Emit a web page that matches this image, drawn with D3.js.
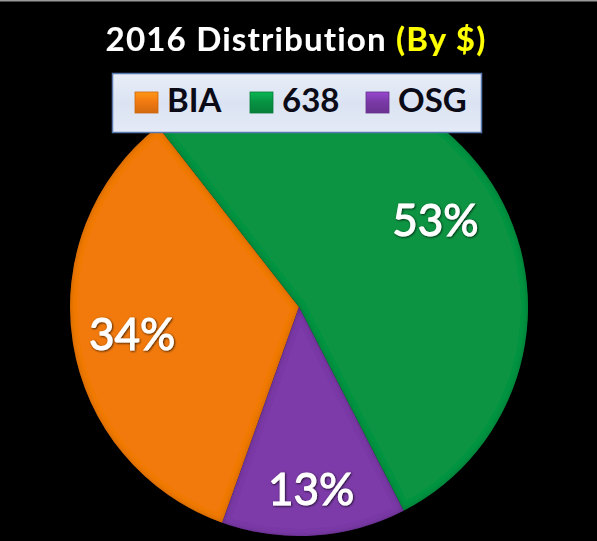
<!DOCTYPE html>
<html>
<head>
<meta charset="utf-8">
<script src="https://cdn.jsdelivr.net/npm/d3@7/dist/d3.min.js"></script>
<style>
  html, body { margin: 0; padding: 0; background: #000; }
  svg { display: block; }
</style>
</head>
<body>
<script>
// ---- data ----
const categories = ["BIA", "638", "OSG"];
const values = [34, 53, 13];
const labels = ["34%", "53%", "13%"];
const colors = ["#F27A11", "#079443", "#7B3AA8"];
const titleMain = "2016 Distribution ";
const titleAccent = "(By $)";

// ---- layout ----
const W = 597, H = 541;
const cx = 299, cy = 307, R = 229;
const labelR = [169, 162, 183];
const startDeg = -160.4;

const svg = d3.select("body").append("svg").attr("width", W).attr("height", H);
svg.append("rect").attr("width", W).attr("height", H).attr("fill", "#000");
svg.append("rect").attr("width", W).attr("height", 1.5).attr("fill", "#9a9a9a");

const defs = svg.append("defs");
const f = defs.append("filter").attr("id", "inner").attr("x", "-10%").attr("y", "-10%").attr("width", "120%").attr("height", "120%");
f.append("feGaussianBlur").attr("in", "SourceAlpha").attr("stdDeviation", 3).attr("result", "blur");
f.append("feComposite").attr("in", "SourceAlpha").attr("in2", "blur").attr("operator", "arithmetic")
  .attr("k1", 0).attr("k2", 1).attr("k3", -1).attr("k4", 0).attr("result", "edge");
f.append("feFlood").attr("flood-color", "#000").attr("flood-opacity", 0.45).attr("result", "fl");
f.append("feComposite").attr("in", "fl").attr("in2", "edge").attr("operator", "in").attr("result", "shadow");
const fm = f.append("feMerge");
fm.append("feMergeNode").attr("in", "SourceGraphic");
fm.append("feMergeNode").attr("in", "shadow");

const ts = defs.append("filter").attr("id", "tshadow").attr("x", "-10%").attr("y", "-20%").attr("width", "120%").attr("height", "140%");
ts.append("feDropShadow").attr("dx", 0.8).attr("dy", 0.8).attr("stdDeviation", 0.8).attr("flood-color", "#000").attr("flood-opacity", 0.8);

const lg = defs.append("linearGradient").attr("id", "legbg").attr("x1", 0).attr("y1", 0).attr("x2", 0).attr("y2", 1);
lg.append("stop").attr("offset", "0%").attr("stop-color", "#e9eef8");
lg.append("stop").attr("offset", "50%").attr("stop-color", "#dbe3f2");
lg.append("stop").attr("offset", "100%").attr("stop-color", "#e4eaf6");

colors.forEach((c, i) => {
  const g = defs.append("linearGradient").attr("id", "sw" + i).attr("x1", 0).attr("y1", 0).attr("x2", 0).attr("y2", 1);
  g.append("stop").attr("offset", "0%").attr("stop-color", d3.color(c).brighter(0.6));
  g.append("stop").attr("offset", "45%").attr("stop-color", c);
  g.append("stop").attr("offset", "100%").attr("stop-color", d3.color(c).darker(0.4));
});

// ---- pie ----
const pie = d3.pie().sort(null).value(d => d)
  .startAngle(startDeg * Math.PI / 180)
  .endAngle(startDeg * Math.PI / 180 + 2 * Math.PI);
const arcs = pie(values);
const arc = d3.arc().innerRadius(0).outerRadius(R);

const g = svg.append("g").attr("transform", `translate(${cx},${cy})`);
g.selectAll("path.slice").data(arcs).join("path")
  .attr("class", "slice")
  .attr("d", arc)
  .attr("fill", (d, i) => colors[i])
  .attr("filter", "url(#inner)");

g.selectAll("text.lbl").data(arcs).join("text")
  .attr("class", "lbl")
  .attr("transform", (d, i) => {
    const a = (d.startAngle + d.endAngle) / 2;
    return `translate(${labelR[i] * Math.sin(a)},${-labelR[i] * Math.cos(a)})`;
  })
  .attr("text-anchor", "middle")
  .attr("dy", "0.36em")
  .attr("font-family", "Lato, 'Open Sans', sans-serif")
  .attr("font-size", 44)
  .attr("fill", "#fff")
  .attr("stroke", "#fff")
  .attr("stroke-width", 1)
  .attr("filter", "url(#tshadow)")
  .text((d, i) => labels[i]);

// ---- title ----
const title = svg.append("text")
  .attr("x", 296).attr("y", 51)
  .attr("text-anchor", "middle")
  .attr("font-family", "Lato, 'Open Sans', sans-serif")
  .attr("font-weight", "bold")
  .attr("font-size", 33)
  .attr("letter-spacing", 1.2)
  .attr("filter", "url(#tshadow)");
title.append("tspan").attr("fill", "#fff").text(titleMain);
title.append("tspan").attr("fill", "#FFFF00").text(titleAccent);

// ---- legend ----
const leg = svg.append("g");
leg.append("rect").attr("x", 112.5).attr("y", 73.5).attr("width", 369).attr("height", 59)
  .attr("fill", "url(#legbg)").attr("stroke", "#5a78b0").attr("stroke-width", 1.5);
const legX = [135, 250, 366];
categories.forEach((c, i) => {
  leg.append("rect").attr("x", legX[i]).attr("y", 92).attr("width", 23).attr("height", 21)
    .attr("fill", `url(#sw${i})`).attr("stroke", d3.color(colors[i]).darker(0.5)).attr("stroke-width", 0.8);
  leg.append("text").attr("x", legX[i] + 32).attr("y", 112)
    .attr("font-family", "Lato, 'Open Sans', sans-serif")
    .attr("font-weight", "bold")
    .attr("font-size", 33)
    .attr("fill", "#0b0b18")
    .text(c);
});
</script>
</body>
</html>
